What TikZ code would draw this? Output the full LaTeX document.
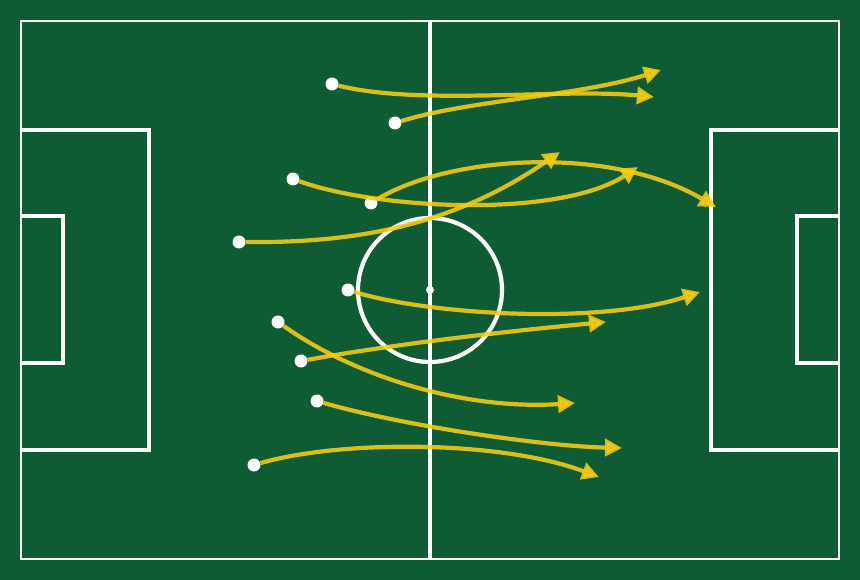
\documentclass[tikz,border=0pt]{standalone}
\usetikzlibrary{arrows.meta}
\definecolor{pitch}{HTML}{0F5B34}
\definecolor{pass}{HTML}{F7CC16}
\tikzset{
  fieldline/.style={draw=white,line width=4.2pt},
  outerline/.style={draw=white,line width=2.8pt},
  player/.style={circle,fill=white,inner sep=0pt,minimum size=13pt},
  passline/.style={draw=pass,line width=4.2pt,opacity=0.88,
    -{Triangle[length=17pt,width=17pt]}}
}
\begin{document}
\begin{tikzpicture}[x=1pt,y=-1pt]
\fill[pitch] (0,0) rectangle (860,580);
\useasboundingbox (0,0) rectangle (860,580);
% field
\draw[outerline] (21,21) rectangle (839,559);
\draw[fieldline] (430,21) -- (430,559);
\draw[fieldline] (430,290) circle[radius=72];
\node[circle,fill=white,inner sep=0pt,minimum size=8pt] (cs) at (430,290) {};
\draw[fieldline] (21,130) -- (149,130) -- (149,450) -- (21,450);
\draw[fieldline] (21,216) -- (63,216) -- (63,363) -- (21,363);
\draw[fieldline] (839,130) -- (711,130) -- (711,450) -- (839,450);
\draw[fieldline] (839,216) -- (797,216) -- (797,363) -- (839,363);
% players
\node[player] (p1) at (332,84) {};
\node[player] (p2) at (395,123) {};
\node[player] (p3) at (293,179) {};
\node[player] (p4) at (371,203) {};
\node[player] (p5) at (239,242) {};
\node[player] (p6) at (348,290) {};
\node[player] (p7) at (301,361) {};
\node[player] (p8) at (278,322) {};
\node[player] (p9) at (317,401) {};
\node[player] (p10) at (254,465) {};
% targets
\coordinate (t1) at (654,97);
\coordinate (t2) at (661,70);
\coordinate (t3) at (638,167);
\coordinate (t4) at (716,207);
\coordinate (t5) at (560,152);
\coordinate (t6) at (700,292);
\coordinate (t7) at (606,322);
\coordinate (t8) at (575,403);
\coordinate (t9) at (622,448);
\coordinate (t10) at (599,477);
% passes
\draw[passline] (p1) .. controls (420,106) and (560,88) .. (t1);
\draw[passline] (p2) .. controls (470,100) and (580,96) .. (t2);
\draw[passline] (p3) .. controls (380,210) and (560,218) .. (t3);
\draw[passline] (p4) .. controls (450,155) and (610,145) .. (t4);
\draw[passline] (p5) .. controls (350,243) and (450,228) .. (t5);
\draw[passline] (p6) .. controls (430,315) and (600,325) .. (t6);
\draw[passline] (p7) .. controls (400,343) and (520,330) .. (t7);
\draw[passline] (p8) .. controls (360,380) and (470,410) .. (t8);
\draw[passline] (p9) .. controls (400,425) and (540,446) .. (t9);
\draw[passline] (p10) .. controls (340,440) and (500,440) .. (t10);
\end{tikzpicture}
\end{document}
